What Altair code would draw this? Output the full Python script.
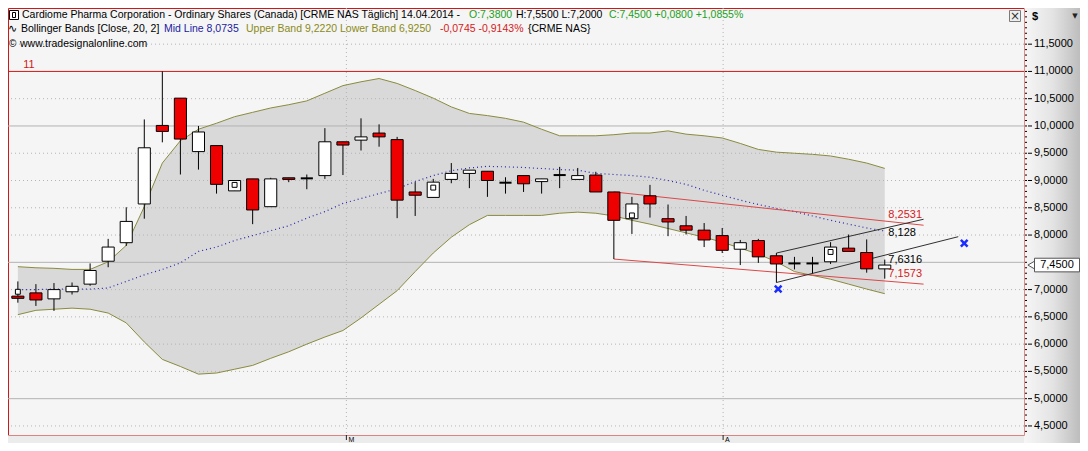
import altair as alt
import pandas as pd

# ---------------- data ----------------
candle_idx = list(range(1, 50))
opens = [6.88, 6.94, 6.83, 6.96, 7.10, 7.52, 7.86, 8.57, 10.01, 10.51,
         9.53, 9.64, 8.81, 9.03, 8.52, 9.05, 9.04, 9.09, 9.71, 9.74,
         9.87, 9.75, 8.79, 8.69, 9.02, 9.13, 9.17, 8.96, 9.09, 8.98,
         9.10, 9.02, 9.10, 8.79, 8.30, 8.72, 8.30, 8.17, 8.09, 7.99,
         7.74, 7.90, 7.62, 7.48, 7.48, 7.51, 7.76, 7.68, 7.38]
highs = [7.15, 7.10, 7.12, 7.13, 7.48, 7.93, 8.51, 10.12, 11.00, 10.51,
         10.00, 9.64, 9.00, 9.03, 9.05, 9.05, 9.11, 9.96, 9.71, 10.14,
         10.03, 9.80, 8.97, 9.03, 9.32, 9.19, 9.17, 9.06, 9.09, 9.03,
         9.25, 9.23, 9.16, 8.79, 8.70, 8.92, 8.56, 8.35, 8.22, 8.13,
         7.91, 7.93, 7.67, 7.60, 7.60, 7.87, 8.01, 7.92, 7.55]
lows = [6.76, 6.70, 6.61, 6.91, 7.07, 7.41, 7.80, 8.30, 9.70, 9.11,
        9.20, 8.76, 8.81, 8.20, 8.52, 8.97, 8.84, 9.03, 9.10, 9.55,
        9.62, 8.31, 8.35, 8.69, 8.95, 8.86, 8.70, 8.76, 8.79, 8.76,
        8.86, 9.02, 8.79, 7.56, 8.02, 8.32, 7.98, 8.01, 7.78, 7.67,
        7.45, 7.49, 7.13, 7.37, 7.30, 7.47, 7.70, 7.31, 7.20]
closes = [6.84, 6.81, 7.00, 7.06, 7.35, 7.78, 8.25, 9.60, 9.90, 9.76,
          9.89, 8.93, 9.00, 8.46, 9.03, 9.02, 9.04, 9.71, 9.65, 9.80,
          9.80, 8.64, 8.73, 8.97, 9.13, 9.19, 9.00, 8.96, 8.94, 9.03,
          9.10, 9.09, 8.79, 8.27, 8.57, 8.57, 8.24, 8.09, 7.91, 7.72,
          7.86, 7.60, 7.47, 7.48, 7.48, 7.78, 7.70, 7.38, 7.45]

bb_upper = [7.42, 7.40, 7.39, 7.37, 7.37, 7.51, 7.81, 8.52, 9.32, 9.73,
            9.94, 10.05, 10.17, 10.25, 10.33, 10.39, 10.46, 10.60, 10.74, 10.81,
            10.87, 10.78, 10.65, 10.51, 10.35, 10.23, 10.19, 10.14, 10.07, 9.94,
            9.82, 9.82, 9.82, 9.84, 9.87, 9.87, 9.91, 9.85, 9.82, 9.78,
            9.68, 9.57, 9.52, 9.50, 9.48, 9.45, 9.39, 9.32, 9.222]
bb_mid = [7.00, 7.00, 7.01, 7.01, 7.01, 7.03, 7.15, 7.27, 7.37, 7.49,
          7.70, 7.78, 7.90, 7.99, 8.08, 8.17, 8.31, 8.43, 8.58, 8.67,
          8.76, 8.85, 8.98, 9.09, 9.18, 9.23, 9.26, 9.25, 9.24, 9.22,
          9.20, 9.19, 9.13, 9.11, 9.09, 9.06, 9.00, 8.93, 8.82, 8.73,
          8.64, 8.56, 8.49, 8.43, 8.35, 8.27, 8.20, 8.13, 8.0735]
bb_lower = [6.54, 6.62, 6.64, 6.66, 6.64, 6.57, 6.39, 6.04, 5.72, 5.59,
            5.45, 5.47, 5.54, 5.61, 5.74, 5.86, 6.00, 6.13, 6.25, 6.48,
            6.73, 6.98, 7.33, 7.67, 7.96, 8.19, 8.36, 8.36, 8.36, 8.36,
            8.40, 8.42, 8.40, 8.35, 8.27, 8.20, 8.12, 8.04, 7.96, 7.87,
            7.76, 7.65, 7.51, 7.33, 7.26, 7.19, 7.10, 7.01, 6.925]

marker_idx = [1, 13, 24, 35, 46]
marker_val = [6.96, 8.92, 8.87, 8.36, 7.69]

trend_name = ["rt", "rt", "rb", "rb", "bt", "bt", "bb", "bb"]
trend_idx = [34, 51.15, 34, 51.15, 43, 51.15, 43, 53.07]
trend_val = [8.79, 8.18, 7.56, 7.10, 7.67, 8.29, 7.13, 7.97]
trend_color = ["#dc4848", "#dc4848", "#dc4848", "#dc4848",
               "#303030", "#303030", "#303030", "#303030"]

trend_label_text = ["8,2531", "8,128", "7,6316", "7,1573"]
trend_label_idx = [49.2, 49.2, 49.2, 49.2]
trend_label_val = [8.376, 8.036, 7.538, 7.287]
trend_label_color = ["#d42020", "#000000", "#000000", "#d42020"]

cross_idx = [43.1, 53.4]
cross_val = [7.01, 7.85]

level_red = [11.0]
grid_major = [5.0, 7.5, 10.0]
grid_minor = [4.5, 5.5, 6.0, 6.5, 7.0, 8.0, 8.5, 9.0, 9.5, 10.5, 11.5]
axis_values = [4.5, 5.0, 5.5, 6.0, 6.5, 7.0, 8.0, 8.5, 9.0, 9.5,
               10.0, 10.5, 11.0, 11.5]
minor_ticks = [round(4.4 + 0.1 * i, 1) for i in range(78)]
month_idx = [19.19, 40.05]
month_text = ["M", "A"]
last_close = [7.45]
last_close_text = ["7,4500"]

# ---------------- chart ----------------
W, H = 1016, 427
xscale = alt.Scale(domain=[0.454, 56.71], nice=False, zero=False)
yscale = alt.Scale(domain=[4.334, 12.163], nice=False, zero=False)
FONT = "Liberation Sans"
GREEN = "#22a022"
OLIVE = "#8a8a20"

candles = pd.DataFrame({"idx": candle_idx, "open": opens, "high": highs,
                        "low": lows, "close": closes})
bands = pd.DataFrame({"idx": candle_idx, "upper": bb_upper, "mid": bb_mid,
                      "lower": bb_lower})
one = pd.DataFrame({"k": [0]})


def X(field="idx"):
    return alt.X(f"{field}:Q", scale=xscale, axis=None)


def Y(field):
    return alt.Y(f"{field}:Q", scale=yscale, axis=None)


layers = []

# right axis area gradient
layers.append(alt.Chart(one).mark_rect(
    fill=alt.LinearGradient(gradient="linear", x1=0, x2=1, y1=0, y2=0,
                            stops=[alt.GradientStop(color="#f6f6f6", offset=0),
                                   alt.GradientStop(color="#e4e4e4", offset=0.5),
                                   alt.GradientStop(color="#bdbdbd", offset=1)])
).encode(x=alt.value(W + 0.5), x2=alt.value(W + 56), y=alt.value(0), y2=alt.value(H + 8)))

# bottom strip
layers.append(alt.Chart(one).mark_rect(fill="#ececec").encode(
    x=alt.value(0), x2=alt.value(W), y=alt.value(H + 0.5), y2=alt.value(H + 8)))

# bollinger band fill
layers.append(alt.Chart(bands).mark_area(color="#d9d9d9").encode(
    x=X(), y=Y("lower"), y2="upper:Q"))

# grid lines
layers.append(alt.Chart(pd.DataFrame({"v": grid_minor})).mark_rule(
    color="#b4b4b4", strokeDash=[1, 3], strokeWidth=1).encode(y=Y("v")))
layers.append(alt.Chart(pd.DataFrame({"v": grid_major})).mark_rule(
    color="#b2b2b2", strokeWidth=1).encode(y=Y("v")))
layers.append(alt.Chart(pd.DataFrame({"m": month_idx})).mark_rule(
    color="#b4b4b4", strokeDash=[1, 3], strokeWidth=1).encode(x=X("m")))
layers.append(alt.Chart(pd.DataFrame({"v": level_red})).mark_rule(
    color="#d01818", strokeWidth=1).encode(y=Y("v")))

# price scale on the right: minor ticks, major ticks, labels
layers.append(alt.Chart(pd.DataFrame({"v": minor_ticks})).mark_rule(
    color="#000", strokeWidth=1).encode(y=Y("v"), x=alt.value(W + 1), x2=alt.value(W + 3)))
adf = pd.DataFrame({"v": axis_values})
layers.append(alt.Chart(adf).mark_rule(color="#000", strokeWidth=1).encode(
    y=Y("v"), x=alt.value(W + 4), x2=alt.value(W + 8)))
layers.append(alt.Chart(adf).transform_calculate(
    t="replace(format(datum.v, '.4f'), '.', ',')").mark_text(
    align="left", baseline="middle", font=FONT, fontSize=11, color="#000").encode(
    y=Y("v"), x=alt.value(W + 10), text="t:N"))

# month ticks under the plot
mdf = pd.DataFrame({"m": month_idx, "t": month_text})
layers.append(alt.Chart(mdf).mark_rule(color="#222").encode(
    x=X("m"), y=alt.value(H), y2=alt.value(H + 5)))
layers.append(alt.Chart(mdf).mark_text(align="left", baseline="bottom", dx=2,
                                       font=FONT, fontSize=7, color="#000").encode(
    x=X("m"), y=alt.value(H + 8), text="t:N"))

# band lines
layers.append(alt.Chart(bands).mark_line(color="#8b8b3e", strokeWidth=1).encode(
    x=X(), y=Y("upper")))
layers.append(alt.Chart(bands).mark_line(color="#8b8b3e", strokeWidth=1).encode(
    x=X(), y=Y("lower")))
layers.append(alt.Chart(bands).mark_line(color="#2424b0", strokeWidth=1.2,
                                         strokeDash=[1, 3]).encode(x=X(), y=Y("mid")))

# trend lines
tdf = pd.DataFrame({"name": trend_name, "idx": trend_idx, "v": trend_val, "c": trend_color})
layers.append(alt.Chart(tdf).mark_line(strokeWidth=1).encode(
    x=X(), y=Y("v"), detail="name:N", color=alt.Color("c:N", scale=None)))

# candles: wicks
layers.append(alt.Chart(candles).mark_rule(color="#000", strokeWidth=1).encode(
    x=X(), y=Y("low"), y2="high:Q"))

# candles: bodies
layers.append(alt.Chart(candles).transform_filter(
    "datum.open != datum.close").transform_calculate(
    xl="datum.idx - 0.335", xr="datum.idx + 0.335",
    kind="datum.close > datum.open ? 'up' : 'down'").mark_rect(
    stroke="#000", strokeWidth=1).encode(
    x=X("xl"), x2="xr:Q", y=Y("open"), y2="close:Q",
    fill=alt.Fill("kind:N", scale=alt.Scale(domain=["up", "down"],
                                            range=["#ffffff", "#ee0000"]), legend=None)))

# candles: doji
layers.append(alt.Chart(candles).transform_filter(
    "datum.open == datum.close").transform_calculate(
    xl="datum.idx - 0.335", xr="datum.idx + 0.335").mark_rule(
    color="#000", strokeWidth=2).encode(x=X("xl"), x2="xr:Q", y=Y("open")))

# pattern markers
layers.append(alt.Chart(pd.DataFrame({"idx": marker_idx, "v": marker_val})).mark_point(
    shape="square", filled=True, fill="#ffffff", stroke="#000", strokeWidth=1,
    size=24, opacity=1).encode(x=X(), y=Y("v")))

# blue crosses
layers.append(alt.Chart(pd.DataFrame({"idx": cross_idx, "v": cross_val})).mark_point(
    shape="M-1,-1L1,1M-1,1L1,-1", filled=False, stroke="#1a2cff", strokeWidth=2.5,
    size=45, opacity=1).encode(x=X(), y=Y("v")))

# trend labels
ldf = pd.DataFrame({"idx": trend_label_idx, "v": trend_label_val,
                    "t": trend_label_text, "c": trend_label_color})
layers.append(alt.Chart(ldf).mark_text(align="left", baseline="middle",
                                       font=FONT, fontSize=11).encode(
    x=X(), y=Y("v"), text="t:N", color=alt.Color("c:N", scale=None)))

# "11" level label
layers.append(alt.Chart(pd.DataFrame({"idx": [1.3], "v": [11.12], "t": ["11"]})).mark_text(
    align="left", baseline="middle", font=FONT, fontSize=11, color="#d01818").encode(
    x=X(), y=Y("v"), text="t:N"))


def txt(text, x, y, color="#000", size=10.5, align="left", font=FONT, weight="normal"):
    return alt.Chart(one).mark_text(text=text, align=align, baseline="middle", font=font,
                                    fontSize=size, color=color, fontWeight=weight).encode(
        x=alt.value(x), y=alt.value(y))


# header icon (line 1)
layers.append(alt.Chart(one).mark_rect(fill="#ffffff", stroke="#000", strokeWidth=1).encode(
    x=alt.value(1.5), x2=alt.value(10.5), y=alt.value(2.5), y2=alt.value(11.5)))
layers.append(alt.Chart(one).mark_rect(fill="#ffffff", stroke="#000", strokeWidth=1).encode(
    x=alt.value(4.5), x2=alt.value(7.5), y=alt.value(4.5), y2=alt.value(9.5)))

L1, L2, L3 = 7, 21, 35.5
layers += [
    txt("Cardiome Pharma Corporation - Ordinary Shares (Canada) [CRME NAS  T\u00e4glich] 14.04.2014 -", 14, L1),
    txt("O:7,3800", 461, L1, GREEN),
    txt("H:7,5500 L:7,2000", 508, L1),
    txt("C:7,4500 +0,0800 +1,0855%", 601, L1, GREEN),
    txt("\u223f", 0, L2, size=11, font="DejaVu Sans"),
    txt("Bollinger Bands [Close, 20, 2]", 13, L2),
    txt("Mid Line 8,0735", 156, L2, "#1a1aa0"),
    txt("Upper Band 9,2220 Lower Band 6,9250", 238, L2, OLIVE),
    txt("-0,0745 -0,9143%", 432, L2, "#d42020"),
    txt("{CRME NAS}", 520, L2),
    txt("\u00a9", 1, L3, size=10),
    txt("www.tradesignalonline.com", 12, L3),
]

# close box top right of plot
layers.append(alt.Chart(one).mark_rect(fill="#eeeeee", stroke="#7a7a7a", strokeWidth=1).encode(
    x=alt.value(W - 14.5), x2=alt.value(W - 3.5), y=alt.value(2.5), y2=alt.value(13.5)))
layers.append(txt("\u00d7", W - 9, 8, "#333", size=12, align="center", font="DejaVu Sans"))

# "$" and dropdown arrow
layers.append(txt("$", W + 8, 9, "#000", size=11, weight="bold"))
layers.append(txt("\u25bc", W + 51, 8, "#222", size=7, align="center", font="DejaVu Sans"))

# last price box
pdf = pd.DataFrame({"v": last_close, "t": last_close_text})
layers.append(alt.Chart(pdf).mark_point(shape="triangle-left", filled=True, fill="#ffffff",
                                        stroke="#555", strokeWidth=1, size=90, opacity=1).encode(
    x=alt.value(W + 8), y=Y("v")))
layers.append(alt.Chart(pdf).transform_calculate(lo="datum.v - 0.125", hi="datum.v + 0.125").mark_rect(
    fill="#ffffff", stroke="#555", strokeWidth=1).encode(
    x=alt.value(W + 10.5), x2=alt.value(W + 55.5), y=Y("lo"), y2="hi:Q"))
layers.append(alt.Chart(pdf).mark_text(align="center", baseline="middle", font=FONT,
                                       fontSize=11, color="#000").encode(
    x=alt.value(W + 33), y=Y("v"), text="t:N"))

chart = alt.layer(*layers).properties(
    width=W, height=H,
    padding={"left": 0, "top": 0, "right": 56, "bottom": 8},
    autosize=alt.AutoSizeParams(type="none"),
    background="#f5f5f5",
).configure_view(stroke="#cc1a1a", strokeWidth=1, fill="#f5f5f5")

chart.save("out.html", embed_options={"renderer": "svg", "actions": False})
